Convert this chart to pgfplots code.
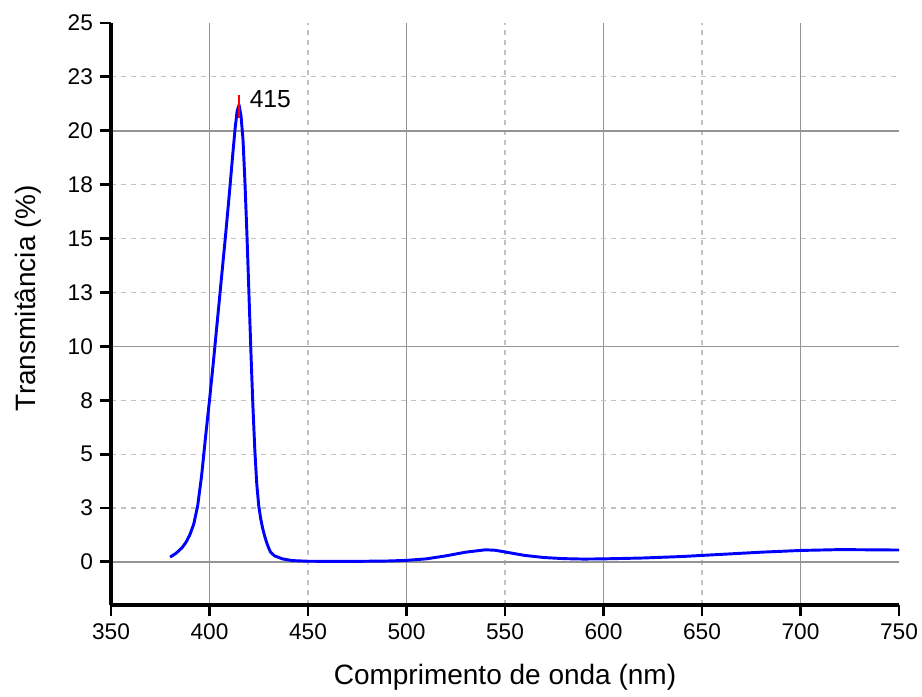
\documentclass[border=0pt]{standalone}
\usepackage{fontspec}
\setmainfont{Liberation Sans}
\usepackage{pgfplots}
\pgfplotsset{compat=1.18}
\pgfplotstableread{
x y
380 0.22
383 0.40
386 0.65
388 0.90
390 1.25
392 1.75
394 2.60
396 4.00
398 5.80
400 7.50
402 9.30
404 11.20
406 13.10
408 15.00
410 17.00
412 19.10
413 20.10
414 20.90
415 21.20
416 20.70
417 19.60
418 17.60
419 15.20
420 12.50
421 9.80
422 7.30
423 5.20
424 3.60
425 2.60
426 2.00
427 1.55
428 1.20
429 0.90
430 0.65
431 0.45
433 0.28
437 0.14
442 0.06
450 0.03
470 0.02
490 0.04
500 0.07
510 0.14
520 0.28
530 0.45
540 0.56
545 0.54
550 0.46
560 0.30
570 0.20
580 0.15
590 0.13
600 0.14
620 0.18
640 0.25
660 0.35
680 0.45
700 0.53
720 0.57
735 0.56
750 0.55
}\spectrum
\begin{document}
\begin{tikzpicture}
\begin{axis}[
  name=ax,
  scale only axis,
  width=591pt, height=436.5pt,
  xmin=350, xmax=750, ymin=-2, ymax=25,
  axis lines=left,
  axis line style={-, line width=2.4pt, black},
  tick align=outside,
  major tick length=8.5pt,
  every tick/.style={black, line width=2.2pt},
  xtick={400,500,600,700},
  xticklabels={400,500,600,700},
  extra x ticks={350,450,550,650,750},
  extra x tick labels={350,450,550,650,750},
  ytick={0,10,20},
  yticklabels={0,10,20},
  extra y ticks={2.5,5,7.5,12.5,15,17.5,22.5,25},
  extra y tick labels={3,5,8,13,15,18,23,25},
  extra tick style={grid=none},
  minor xtick={450,550,650},
  minor ytick={2.5,5,7.5,12.5,15,17.5,22.5},
  minor tick length=0pt,
  xmajorgrids, ymajorgrids, xminorgrids, yminorgrids,
  major grid style={line width=1.1pt, color=black!42},
  minor grid style={line width=0.9pt, color=black!24, dash pattern=on 3.75pt off 3.75pt},
  /pgf/number format/assume math mode=true,
  tick label style={font=\fontsize{17}{20}\selectfont},
  xticklabel style={yshift=-2pt},
  yticklabel style={xshift=-1.5pt},
  clip=false,
]
\addplot[blue, line width=2.2pt, line join=round] table[x=x,y=y] {\spectrum};
\addplot[red, line width=1.2pt] coordinates {(415,20.57) (415,21.65)};
\node[anchor=west, inner sep=0pt, font=\fontsize{18.5}{21}\selectfont] at (axis cs:420.3,21.45) {415};
\end{axis}
\node[anchor=base, font=\fontsize{21}{25}\selectfont] at ([yshift=-60pt]ax.south) {Comprimento de onda (nm)};
\node[anchor=base, rotate=90, font=\fontsize{21}{25}\selectfont] at ([xshift=-56.5pt, yshift=12pt]ax.west) {Transmitância (\%)};
\pgfresetboundingbox
\path ([xshift=-83.25pt, yshift=-69pt]ax.south west) rectangle ([xshift=17.25pt, yshift=17.25pt]ax.north east);
\end{tikzpicture}
\end{document}
